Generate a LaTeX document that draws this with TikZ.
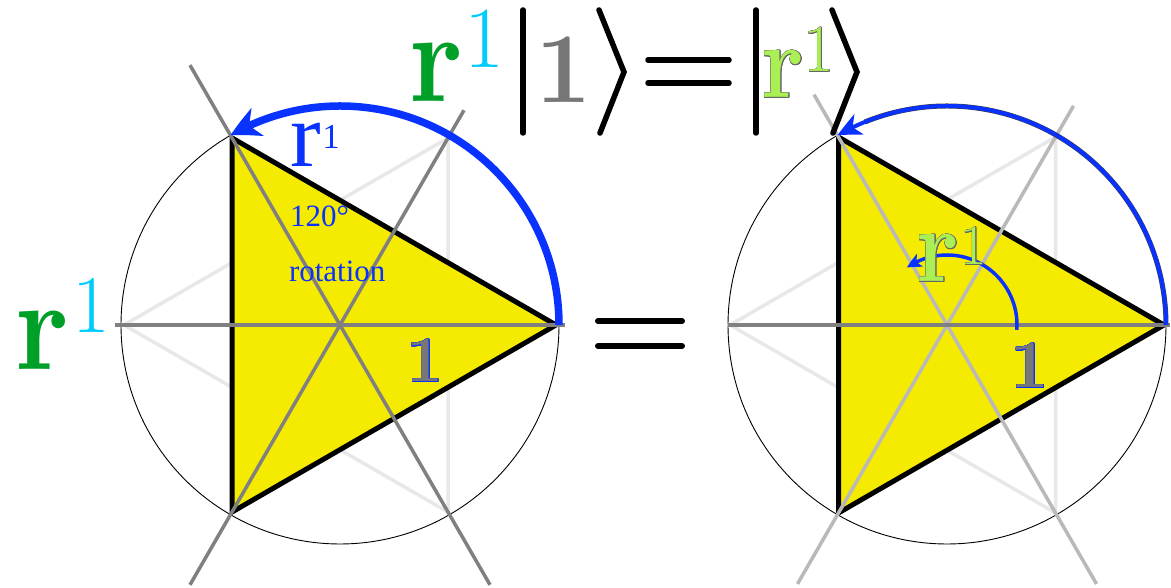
\documentclass[tikz,border=0pt]{standalone}
\usepackage{fontspec}
\newfontfamily\timesf{Liberation Serif}
\usepackage{contour}
\contourlength{0.5pt}
\usetikzlibrary{arrows.meta,bending}
\definecolor{tri}{RGB}{245,235,0}
\definecolor{rgreen}{RGB}{0,160,40}
\definecolor{rcyan}{RGB}{0,204,255}
\definecolor{rblue}{RGB}{10,50,255}
\definecolor{lgreen}{RGB}{170,240,85}
\definecolor{faint}{RGB}{232,232,232}
\definecolor{midgray}{RGB}{128,128,128}
\definecolor{lightg}{RGB}{185,185,185}
\definecolor{onegray}{RGB}{119,119,119}
\newcommand{\fsz}[1]{\fontsize{#1}{#1}\selectfont}
\begin{document}
\begin{tikzpicture}[x=1pt,y=1pt,
  txt/.style={inner sep=0pt, outer sep=0pt, anchor=base},
  stroke/.style={line width=5.5pt, line cap=round, line join=miter},
  ring/.style={draw=black, line width=0.9pt},
  faintline/.style={draw=faint, line width=3.5pt},
  mirror/.style={draw=midgray, line width=3.5pt},
  mirrorlight/.style={draw=lightg, line width=3.5pt},
  trishape/.style={fill=tri, draw=black, line width=5pt, line join=miter},
  bluearc/.style={draw=rblue, line width=7.5pt},
]
\useasboundingbox (0,0) rectangle (1171,588);
\fill[white] (0,0) rectangle (1171,588);

% ---------- left diagram ----------
\coordinate (C1) at (340,263);
\path (C1) ++(0:216) coordinate (L0) (C1) ++(120:216) coordinate (L120) (C1) ++(240:216) coordinate (L240);
\path (C1) ++(180:216) coordinate (F180) (C1) ++(60:216) coordinate (F60) (C1) ++(300:216) coordinate (F300);
\draw[ring] (C1) circle[radius=219];
\draw[faintline] (F180) -- (F60) -- (F300) -- cycle;
\draw[trishape] (L0) -- (L120) -- (L240) -- cycle;
\path (C1) ++(180:225) coordinate (H1a) (C1) ++(0:225) coordinate (H1b);
\path (C1) ++(120:300) coordinate (P1a) (C1) ++(300:300) coordinate (P1b);
\path (C1) ++(60:248) coordinate (Q1a) (C1) ++(240:300) coordinate (Q1b);
\draw[mirror] (H1a) -- (H1b);
\draw[mirror] (P1a) -- (P1b);
\draw[mirror] (Q1a) -- (Q1b);
\path (C1) ++(0:219) coordinate (B1s);
\draw[bluearc, -{Stealth[length=30pt,width=30pt,inset=9pt,bend]}] (B1s) arc[start angle=0, end angle=120, radius=219];

% ---------- right diagram ----------
\coordinate (C2) at (947,263);
\path (C2) ++(0:217) coordinate (R0) (C2) ++(120:217) coordinate (R120) (C2) ++(240:217) coordinate (R240);
\path (C2) ++(180:217) coordinate (G180) (C2) ++(60:217) coordinate (G60) (C2) ++(300:217) coordinate (G300);
\draw[ring] (C2) circle[radius=219];
\draw[faintline] (G180) -- (G60) -- (G300) -- cycle;
\draw[trishape] (R0) -- (R120) -- (R240) -- cycle;
\path (C2) ++(180:219) coordinate (H2a) (C2) ++(0:223) coordinate (H2b);
\path (C2) ++(120:266) coordinate (P2a) (C2) ++(300:299) coordinate (P2b);
\path (C2) ++(60:253) coordinate (Q2a) (C2) ++(240:299) coordinate (Q2b);
\draw[mirrorlight] (P2a) -- (P2b);
\draw[mirrorlight] (Q2a) -- (Q2b);
\draw[mirror] (H2a) -- (H2b);
\path (C2) ++(0:219) coordinate (B2s);
\draw[draw=black!75, line width=5pt] (B2s) arc[start angle=0, end angle=112, radius=219];
\draw[draw=rblue, line width=4pt, -{Stealth[length=24pt,width=22pt,inset=7pt,bend]}] (B2s) arc[start angle=0, end angle=120, radius=219];
\path (C2) ++(-4:70) coordinate (S2s);
\draw[draw=rblue, line width=3.5pt, -{Stealth[length=15pt,width=14pt,inset=4pt,bend]}] (S2s) arc[start angle=-4, end angle=125, radius=70];

% ---------- labels in the diagrams ----------
\node[txt, text=rgreen] (lr) at (42,218) {\fsz{130}\scalebox{0.9}[1]{\bfseries r}};
\node[txt, text=rcyan] (lr1) at (91,255) {\fsz{82}1};
\node[txt, text=rblue] (br) at (306,421) {\fsz{92}\timesf r};
\node[txt, text=rblue] (br1) at (331,439) {\fsz{35}\timesf 1};
\node[txt, anchor=base west, text=rblue] (deg) at (290,361) {\fsz{31}\timesf 120°};
\node[txt, anchor=base west, text=rblue] (rot) at (289,306) {\fsz{31}\timesf rotation};
\node[txt] (one1) at (425,206) {\fsz{65}\color{onegray}\contour{rblue}{\bfseries 1}};
\node[txt] (one2) at (1030,200) {\fsz{68}\color{onegray}\contour{rblue}{\bfseries 1}};
\node[txt] (ir) at (938,306) {\fsz{105}\color{lgreen}\scalebox{0.88}[1]{\contour{black!60}{\bfseries r}}};
\node[txt] (ir1) at (974,323) {\fsz{57}\color{lgreen}\contour{black!60}{1}};

% ---------- big equals ----------
\coordinate (E1a) at (598,267); \coordinate (E1b) at (682,267);
\coordinate (E2a) at (598,242); \coordinate (E2b) at (682,242);
\draw[stroke, line width=6pt] (E1a) -- (E1b);
\draw[stroke, line width=6pt] (E2a) -- (E2b);

% ---------- title ----------
\node[txt, text=rgreen] (tr) at (436,486) {\fsz{130}\scalebox{0.9}[1]{\bfseries r}};
\node[txt, text=rcyan] (tr1) at (484,520) {\fsz{87}1};
\coordinate (K1a) at (523,578); \coordinate (K1b) at (523,455);
\draw[stroke] (K1a) -- (K1b);
\node[txt, text=onegray] (t1) at (564,485) {\fsz{100}\bfseries 1};
\coordinate (A1a) at (599,578); \coordinate (A1m) at (624,516); \coordinate (A1b) at (600,455);
\draw[stroke] (A1a) -- (A1m) -- (A1b);
\coordinate (T1a) at (648,528); \coordinate (T1b) at (729,528);
\coordinate (T2a) at (648,505); \coordinate (T2b) at (729,505);
\draw[stroke] (T1a) -- (T1b);
\draw[stroke] (T2a) -- (T2b);
\coordinate (K2a) at (756,578); \coordinate (K2b) at (756,455);
\draw[stroke] (K2a) -- (K2b);
\node[txt] (tg) at (783,490) {\fsz{105}\color{lgreen}\scalebox{0.88}[1]{\contour{black!60}{\bfseries r}}};
\node[txt] (tg1) at (819,516) {\fsz{67}\color{lgreen}\contour{black!60}{1}};
\coordinate (A2a) at (832,578); \coordinate (A2m) at (857,516); \coordinate (A2b) at (833,455);
\draw[stroke] (A2a) -- (A2m) -- (A2b);
\end{tikzpicture}
\end{document}
